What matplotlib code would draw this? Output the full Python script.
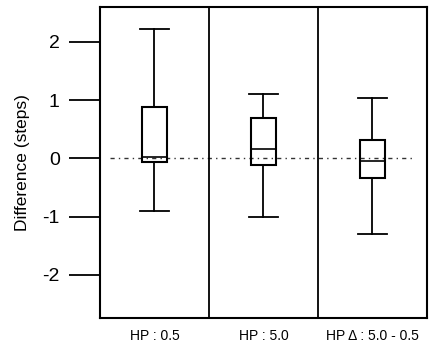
import matplotlib
matplotlib.use("Agg")
import matplotlib.pyplot as plt

plt.rcParams['font.family'] = ['Liberation Sans', 'DejaVu Sans']

categories = ["HP : 0.5", "HP : 5.0", "HP \u0394 : 5.0 - 0.5"]
whislo = [-0.90, -1.00, -1.29]
q1 = [-0.07, -0.12, -0.33]
med = [0.03, 0.16, -0.05]
q3 = [0.88, 0.69, 0.31]
whishi = [2.22, 1.10, 1.03]
yticks = [-2, -1, 0, 1, 2]

fig = plt.figure(figsize=(4.29, 3.45), dpi=100)
ax = fig.add_axes([0.233, 0.078, 0.762, 0.902])

stats = []
for i, c in enumerate(categories):
    stats.append(dict(label=c, whislo=whislo[i], q1=q1[i], med=med[i],
                      q3=q3[i], whishi=whishi[i], fliers=[]))

ax.axhline(0, xmin=0.03, xmax=0.96, color='#333333', lw=1.0,
           linestyle=(0, (3, 3, 1, 3)), zorder=1)

ax.bxp(stats, positions=range(len(categories)), widths=0.23,
       capwidths=0.27, showfliers=False, patch_artist=True,
       boxprops=dict(facecolor='none', edgecolor='black', linewidth=1.5),
       medianprops=dict(color='black', linewidth=1.2),
       whiskerprops=dict(color='black', linewidth=1.3),
       capprops=dict(color='black', linewidth=1.3), zorder=2)

ax.set_xlim(-0.5, len(categories) - 0.5)
ax.set_ylim(-2.74, 2.6)
for xb in [0.5, 1.5]:
    ax.axvline(xb, color='black', lw=1.3)

ax.set_yticks(yticks)
ax.set_yticklabels([str(t) for t in yticks], fontsize=14)
ax.tick_params(axis='y', direction='out', length=22, width=1.3, pad=7)
ax.tick_params(axis='x', length=0, pad=8, labelsize=10)
ax.set_xticks(range(len(categories)))
ax.set_xticklabels(categories)
for s in ax.spines.values():
    s.set_linewidth(1.5)
ax.set_ylabel("Difference (steps)", fontsize=12.5, labelpad=9)

fig.savefig("out.png", dpi=100)
